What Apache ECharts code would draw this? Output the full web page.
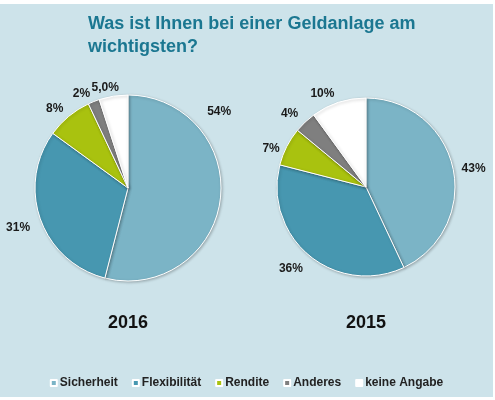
<!DOCTYPE html>
<html><head><meta charset="utf-8">
<script src="https://cdn.jsdelivr.net/npm/echarts@6/dist/echarts.min.js"></script>
<style>
html,body{margin:0;padding:0;background:#fff;width:495px;height:400px;overflow:hidden}
#c{position:absolute;left:0;top:4px;width:493px;height:393px;background:#cde3ea}
</style></head>
<body><div id="c"></div>
<script>
const titleText = 'Was ist Ihnen bei einer Geldanlage am\nwichtigsten?';
const categories = ['Sicherheit','Flexibilität','Rendite','Anderes','keine Angabe'];
const years = ['2016','2015'];
const values2016 = [54,31,8,2,5];
const values2015 = [43,36,7,4,10];
const labels2016 = ['54%','31%','8%','2%','5,0%'];
const labels2015 = ['43%','36%','7%','4%','10%'];
const colors = ['#7bb4c6','#4797b0','#a9c20f','#7f7f7f','#ffffff'];

const font = '"Liberation Sans", Arial, sans-serif';
const chart = echarts.init(document.getElementById('c'));

// label nudges (styling), per slice, as in the reference layout
const nudge2016 = [[-32,-89],[8,5],[10,0],[9,1],[16,1]];
const nudge2015 = [[-10,3],[9,5],[11,7],[9,-1],[8,1]];

function pieSeries(name, values, labels, center, radius, nudge){
  return {
    type:'pie', name:name, center:center, radius:radius,
    startAngle:90, clockwise:true, avoidLabelOverlap:false,
    itemStyle:{borderColor:'#ffffff', borderWidth:1, shadowBlur:3, shadowColor:'rgba(0,0,0,0.25)', shadowOffsetX:1, shadowOffsetY:1},
    label:{show:true, position:'outside', fontFamily:font, fontWeight:'bold', fontSize:12, color:'#1a1a1a',
      formatter:p=>labels[p.dataIndex]},
    labelLine:{show:false, length:10, length2:4},
    labelLayout:p=>({hideOverlap:false, moveOverlap:null, dx:nudge[p.dataIndex][0], dy:nudge[p.dataIndex][1]}),
    emphasis:{disabled:true},
    data: categories.map((c,i)=>({name:c, value:values[i], itemStyle:{color:colors[i]}}))
  };
}

chart.setOption({
  animation:false,
  title:{text:titleText, left:83, top:4,
    textStyle:{fontFamily:font, fontSize:18, fontWeight:'bold', color:'#1b7791', lineHeight:23}},
  legend:{bottom:3, left:'center', icon:'rect', itemWidth:6, itemHeight:6, itemGap:14,
    textStyle:{fontFamily:font, fontSize:12, fontWeight:'bold', color:'#222', padding:[0,0,0,-2]},
    data:categories.map((c,i)=>({name:c, itemStyle:{color:colors[i]}}))},
  graphic:[
    {type:'text', x:128, y:319, style:{text:years[0], textAlign:'center', textVerticalAlign:'middle', font:'bold 18px '+font, fill:'#111'}},
    {type:'text', x:366, y:319, style:{text:years[1], textAlign:'center', textVerticalAlign:'middle', font:'bold 18px '+font, fill:'#111'}}
  ],
  series:[
    pieSeries(years[0], values2016, labels2016, [128,184], 93, nudge2016),
    pieSeries(years[1], values2015, labels2015, [366,183], 89, nudge2015)
  ]
});
</script></body></html>
